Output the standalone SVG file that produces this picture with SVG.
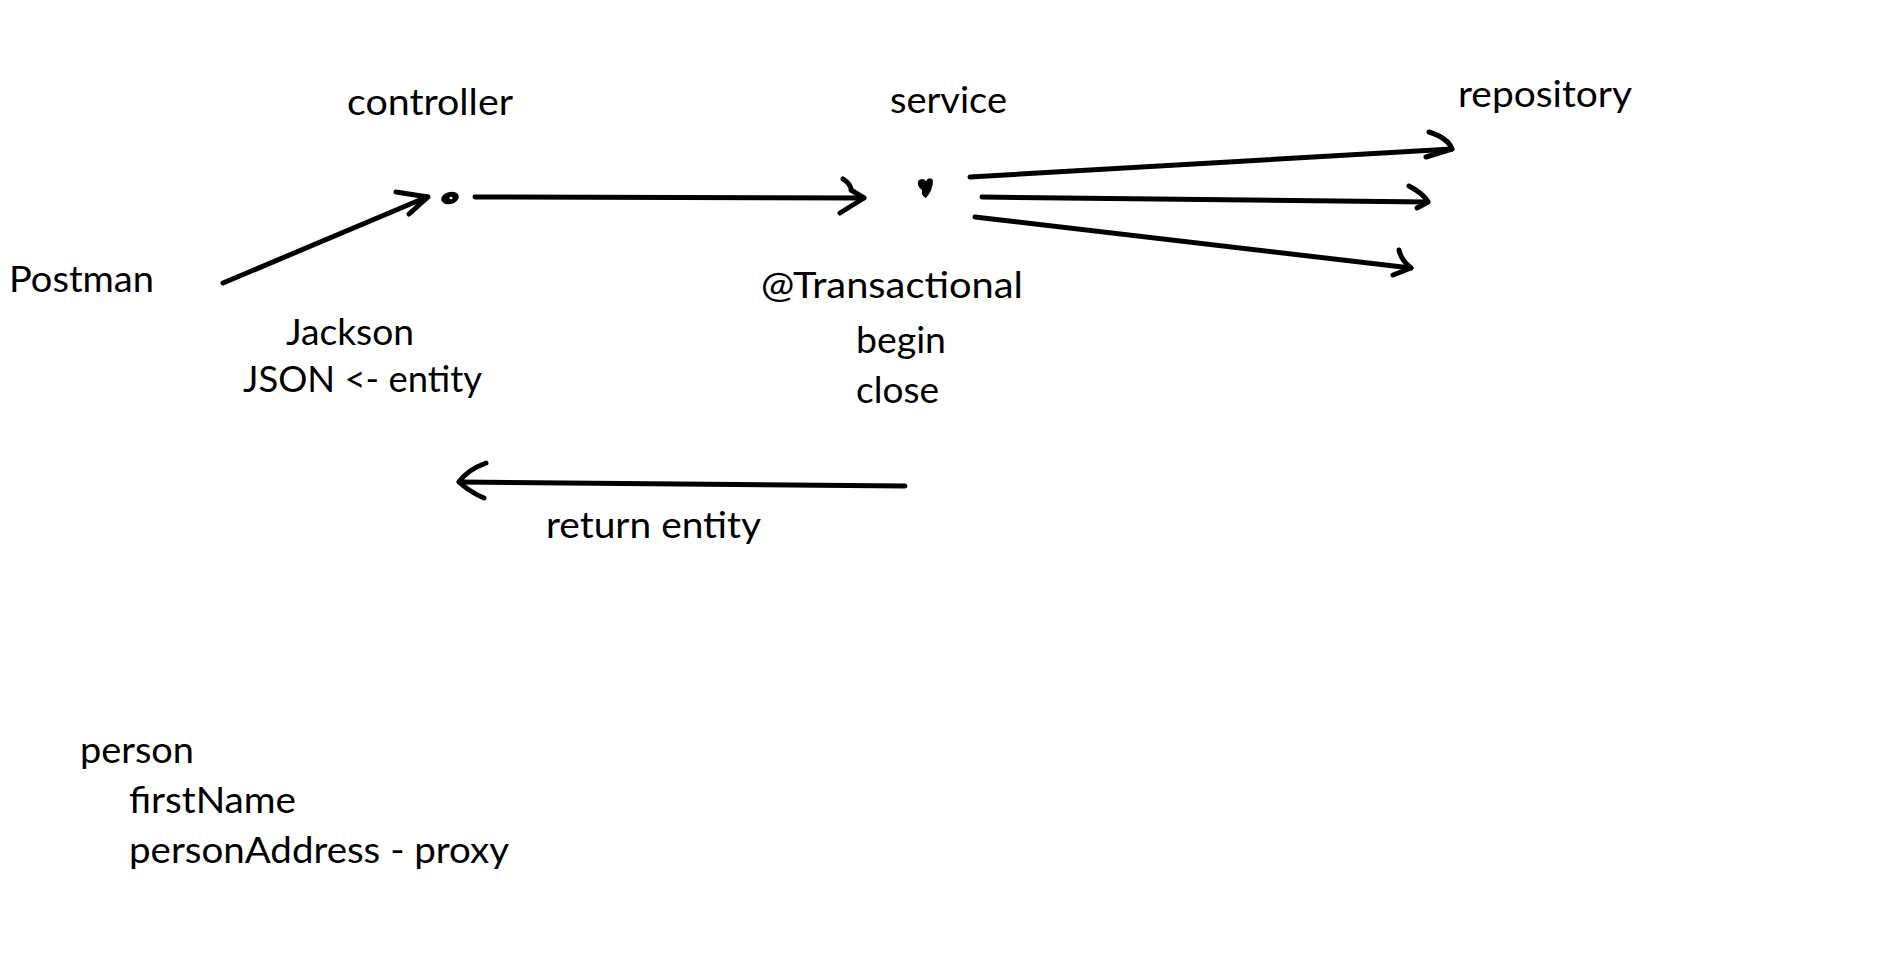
<svg xmlns="http://www.w3.org/2000/svg" width="1885" height="980" viewBox="0 0 1885 980">
<style>
text{font-family:Lato,"Open Sans","Liberation Sans",sans-serif;font-size:37px;fill:#000}
.ln{stroke:#000;stroke-width:5;fill:none;stroke-linecap:round;stroke-linejoin:round}
</style>
<rect width="1885" height="980" fill="#fff"/>
<g id="postman"><text x="9" y="292" textLength="145" lengthAdjust="spacingAndGlyphs">Postman</text></g>
<g id="controller">
<text x="347" y="115" textLength="166" lengthAdjust="spacingAndGlyphs">controller</text>
<ellipse cx="450" cy="198" rx="9" ry="6" transform="rotate(-15 450 198)" fill="#000"/>
<ellipse cx="451" cy="198" rx="1.5" ry="1.2" fill="#fff"/>
<text x="286" y="345" textLength="128" lengthAdjust="spacingAndGlyphs">Jackson</text>
<text x="243" y="392" textLength="239" lengthAdjust="spacingAndGlyphs">JSON &lt;- entity</text>
</g>
<g id="service">
<text x="890" y="113" textLength="117" lengthAdjust="spacingAndGlyphs">service</text>
<path d="M918,181 Q922,177 926,181 Q929,176 933,180 Q933,190 926,198 Q921,196 922,190 Q917,187 918,181 Z" fill="#000"/>
<text x="761" y="298" textLength="262" lengthAdjust="spacingAndGlyphs">@Transactional</text>
<text x="856" y="353" textLength="90" lengthAdjust="spacingAndGlyphs">begin</text>
<text x="856" y="403" textLength="83" lengthAdjust="spacingAndGlyphs">close</text>
</g>
<g id="repository"><text x="1458" y="107" textLength="174" lengthAdjust="spacingAndGlyphs">repository</text></g>
<g id="return-label"><text x="546" y="538" textLength="215" lengthAdjust="spacingAndGlyphs">return entity</text></g>
<g id="note">
<text x="80" y="763" textLength="114" lengthAdjust="spacingAndGlyphs">person</text>
<text x="129" y="813" textLength="167" lengthAdjust="spacingAndGlyphs">firstName</text>
<text x="129" y="863" textLength="380" lengthAdjust="spacingAndGlyphs">personAddress - proxy</text>
</g>
<g id="connectors">
<path class="ln" d="M223,283 L427,197"/>
<path class="ln" d="M396,192 L428,197 L409,214"/>
<path class="ln" d="M475,197 L864,198"/>
<path class="ln" d="M843,179 Q851,184 851,190 L864,198 L840,213"/>
<path class="ln" d="M970,177 L1452,149"/>
<path class="ln" d="M1429,132 Q1448,138 1452,149 L1426,157"/>
<path class="ln" d="M982,197 L1428,202"/>
<path class="ln" d="M1409,186 Q1424,194 1428,202 L1417,208"/>
<path class="ln" d="M975,217 L1411,268"/>
<path class="ln" d="M1399,250 Q1401,260 1411,268 L1393,275"/>
<path class="ln" d="M905,486 L459,482"/>
<path class="ln" d="M486,463 Q467,470 459,482 Q470,492 484,498"/>
</g>
</svg>
